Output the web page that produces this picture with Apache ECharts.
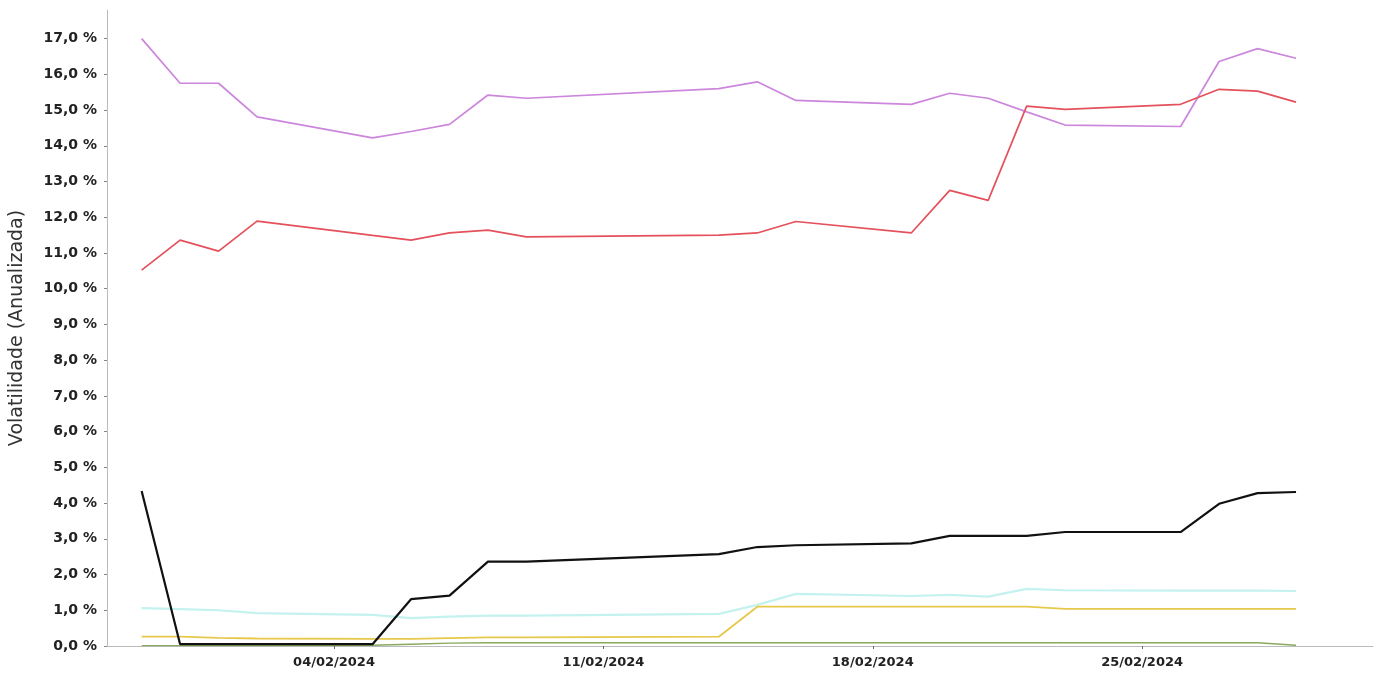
<!DOCTYPE html>
<html>
<head>
<meta charset="utf-8">
<script src="https://cdn.jsdelivr.net/npm/echarts@6/dist/echarts.min.js"></script>
<style>
  html, body { margin: 0; padding: 0; background: #ffffff; }
  #chart { width: 1378px; height: 675px; }
</style>
</head>
<body>
<div id="chart"></div>
<script>
// ---- data ----
const dates = ['2024-01-30','2024-01-31','2024-02-01','2024-02-02','2024-02-05','2024-02-06','2024-02-07',
  '2024-02-08','2024-02-09','2024-02-14','2024-02-15','2024-02-16','2024-02-19','2024-02-20',
  '2024-02-21','2024-02-22','2024-02-23','2024-02-26','2024-02-27','2024-02-28','2024-02-29'];
const purpleVals = [17.0, 15.75, 15.75, 14.81, 14.22, 14.40, 14.60, 15.42, 15.33, 15.60, 15.79, 15.27,
  15.16, 15.47, 15.33, 14.95, 14.58, 14.54, 16.36, 16.72, 16.45];
const redVals = [10.52, 11.36, 11.05, 11.89, 11.49, 11.36, 11.56, 11.64, 11.45, 11.50, 11.56, 11.88,
  11.56, 12.75, 12.47, 15.11, 15.02, 15.16, 15.58, 15.53, 15.22];
const blackVals = [4.34, 0.05, 0.05, 0.05, 0.05, 1.31, 1.41, 2.36, 2.36, 2.57, 2.77, 2.82,
  2.87, 3.08, 3.08, 3.08, 3.19, 3.19, 3.98, 4.28, 4.31];
const cyanVals = [1.06, 1.03, 1.00, 0.92, 0.87, 0.78, 0.82, 0.85, 0.85, 0.90, 1.15, 1.46,
  1.40, 1.43, 1.38, 1.60, 1.56, 1.55, 1.55, 1.55, 1.54];
const yellowVals = [0.26, 0.26, 0.23, 0.21, 0.20, 0.20, 0.22, 0.24, 0.24, 0.26, 1.10, 1.10,
  1.10, 1.10, 1.10, 1.10, 1.04, 1.04, 1.04, 1.04, 1.04];
const greenVals = [0.01, 0.01, 0.01, 0.01, 0.02, 0.05, 0.08, 0.09, 0.09, 0.09, 0.09, 0.09,
  0.09, 0.09, 0.09, 0.09, 0.09, 0.09, 0.09, 0.09, 0.02];
const xTickDates = ['2024-02-04', '2024-02-11', '2024-02-18', '2024-02-25'];
const yTickValues = [0,1,2,3,4,5,6,7,8,9,10,11,12,13,14,15,16,17];
const xMin = '2024-01-29T02:24:00';
const xMax = '2024-03-02T00:00:00';
const yMax = 17.8;

// ---- helpers ----
function ts(s) {
  const p = s.split(/[-T:]/).map(Number);
  return new Date(p[0], p[1] - 1, p[2], p[3] || 0, p[4] || 0, p[5] || 0).getTime();
}
function pad(n) { return (n < 10 ? '0' : '') + n; }
function pairs(vals) { return dates.map((d, i) => [ts(d), vals[i]]); }

const seriesDefs = [
  { name: 'Série 1', data: purpleVals, color: '#cc86dc', width: 1.7 },
  { name: 'Série 2', data: redVals, color: '#e4515c', width: 1.7 },
  { name: 'Série 3', data: cyanVals, color: '#c4f2ef', width: 2.2 },
  { name: 'Série 4', data: yellowVals, color: '#e6c84a', width: 1.8 },
  { name: 'Série 5', data: greenVals, color: '#8aa860', width: 1.4 },
  { name: 'Série 6', data: blackVals, color: '#111111', width: 2.2 }
];

const chart = echarts.init(document.getElementById('chart'), null, { renderer: 'canvas' });
chart.setOption({
  animation: false,
  backgroundColor: '#ffffff',
  grid: { left: 107, right: 5, top: 10, bottom: 29 },
  xAxis: {
    type: 'value',
    min: ts(xMin),
    max: ts(xMax),
    axisLine: { show: true, onZero: false, lineStyle: { color: '#bbbbbb', width: 1 } },
    axisTick: { show: true, length: 3, customValues: xTickDates.map(ts), lineStyle: { color: '#666' } },
    axisLabel: {
      customValues: xTickDates.map(ts),
      formatter: function (v) { const d = new Date(v); return pad(d.getDate()) + '/' + pad(d.getMonth() + 1) + '/' + d.getFullYear(); },
      fontFamily: 'DejaVu Sans', fontSize: 13, fontWeight: 'bold', color: '#222', margin: 10
    },
    splitLine: { show: false }
  },
  yAxis: {
    type: 'value',
    min: 0,
    max: yMax,
    name: 'Volatilidade (Anualizada)',
    nameLocation: 'middle',
    nameGap: 80,
    nameTextStyle: { fontFamily: 'DejaVu Sans', fontSize: 19, color: '#333' },
    axisLine: { show: true, lineStyle: { color: '#bbbbbb', width: 1 } },
    axisTick: { show: true, length: 3, customValues: yTickValues, lineStyle: { color: '#888' } },
    axisLabel: {
      customValues: yTickValues,
      formatter: function (v) { return v.toFixed(1).replace('.', ',') + ' %'; },
      fontFamily: 'DejaVu Sans', fontSize: 14, fontWeight: 'bold', color: '#222', margin: 10
    },
    splitLine: { show: false }
  },
  series: seriesDefs.map(s => ({
    name: s.name,
    type: 'line',
    data: pairs(s.data),
    showSymbol: false,
    symbol: 'none',
    lineStyle: { color: s.color, width: s.width },
    itemStyle: { color: s.color }
  }))
});
</script>
</body>
</html>
